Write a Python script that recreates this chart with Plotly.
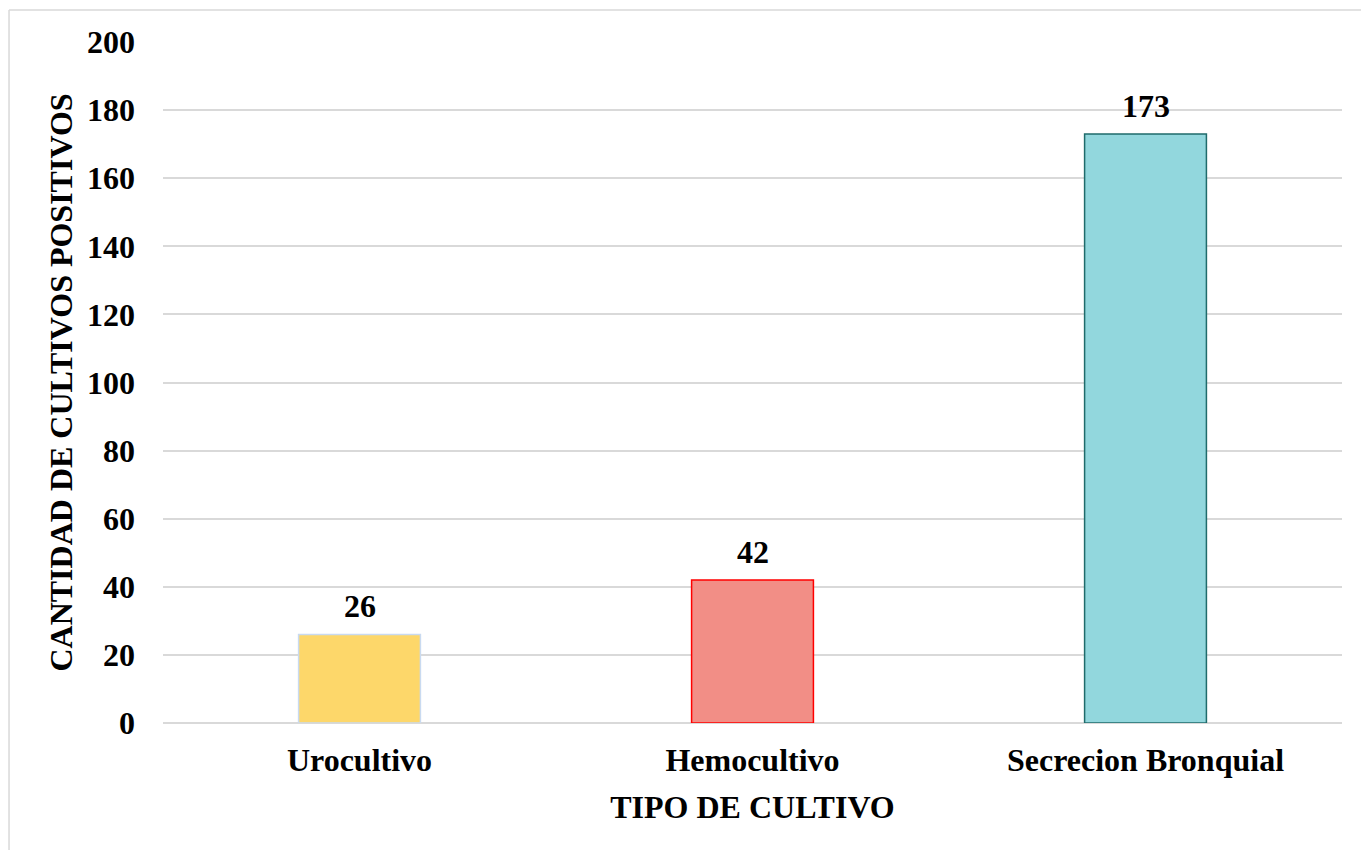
import plotly.graph_objects as go

categories = ["Urocultivo", "Hemocultivo", "Secrecion Bronquial"]
values = [26, 42, 173]
fill_colors = ["#FDD76A", "#F28E86", "#92D7DD"]
line_colors = ["#C9DAF0", "#FF0000", "#1F6B6B"]
y_ticks = [0, 20, 40, 60, 80, 100, 120, 140, 160, 180, 200]

font_family = "Liberation Serif, Times New Roman, serif"
FS = 32

fig = go.Figure()
fig.add_trace(go.Bar(
    x=categories,
    y=values,
    marker=dict(color=fill_colors, line=dict(color=line_colors, width=1.5)),
    cliponaxis=False,
))

for c, v in zip(categories, values):
    fig.add_annotation(
        x=c, y=v, text="<b>%d</b>" % v, showarrow=False,
        yanchor="middle", yshift=28,
        font=dict(family=font_family, size=FS, color="black"),
    )

fig.update_layout(
    width=1361, height=850,
    margin=dict(l=163, r=19, t=42, b=127),
    plot_bgcolor="white", paper_bgcolor="white",
    bargap=0.69,
    showlegend=False,
    font=dict(family=font_family, size=FS, color="black"),
    xaxis=dict(
        title=dict(text="<b>TIPO DE CULTIVO</b>", font=dict(size=FS), standoff=18),
        tickfont=dict(size=FS),
        ticktext=["<b>%s</b>" % c for c in categories],
        tickvals=categories,
        ticklabelstandoff=15,
        showline=False, showgrid=False, ticks="",
    ),
    yaxis=dict(
        title=dict(text="<b>CANTIDAD DE CULTIVOS POSITIVOS</b>", font=dict(size=FS), standoff=4),
        range=[0, 200],
        tickvals=y_ticks,
        ticktext=["<b>%d</b>" % t for t in y_ticks],
        tickfont=dict(size=FS),
        ticklabelstandoff=27,
        showgrid=True, gridcolor="#D9D9D9", gridwidth=2,
        zeroline=True, zerolinecolor="#D9D9D9", zerolinewidth=2,
        ticks="", showline=False,
    ),
    shapes=[
        dict(type="line", xref="paper", yref="paper", x0=-0.1306, x1=1.1, y0=1.047, y1=1.047,
             line=dict(color="#D9D9D9", width=1.5)),
        dict(type="line", xref="paper", yref="paper", x0=-0.1306, x1=-0.1306, y0=1.047, y1=-0.2,
             line=dict(color="#D9D9D9", width=1.5)),
    ],
)

fig.write_html("out.html")
